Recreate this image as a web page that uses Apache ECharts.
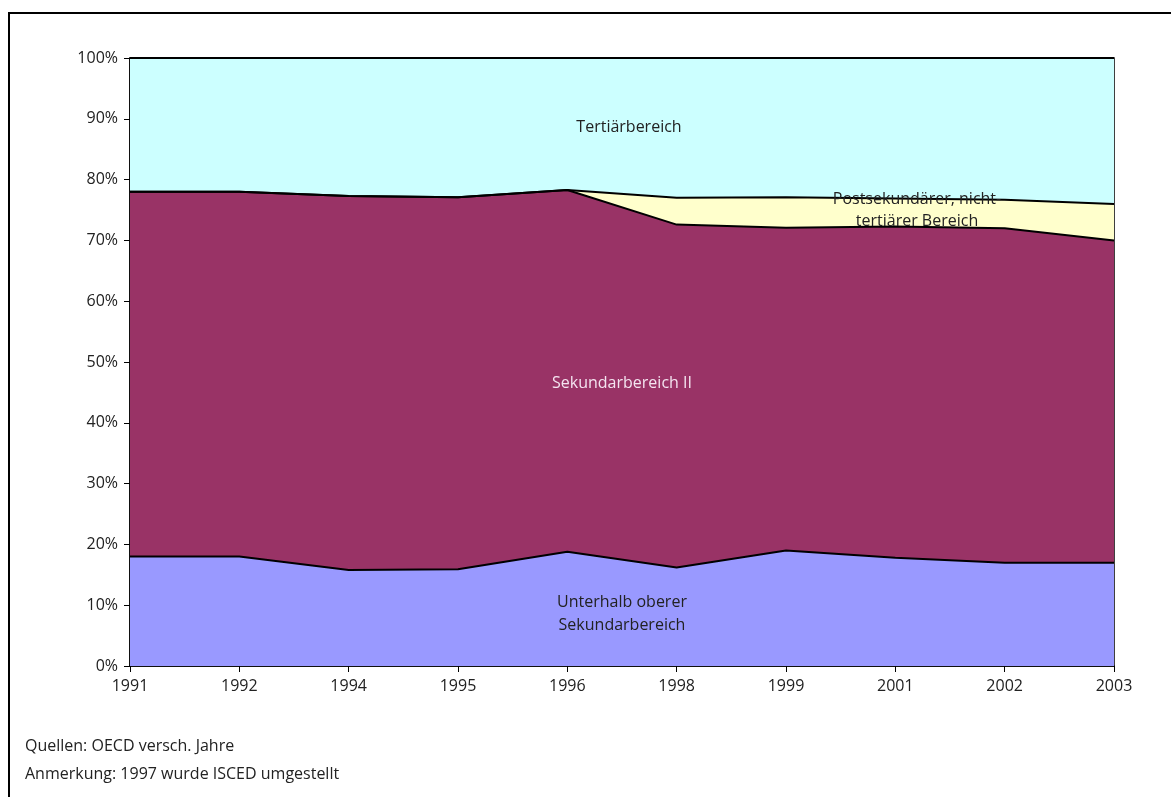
<!DOCTYPE html>
<html>
<head>
<meta charset="utf-8">
<script src="https://cdn.jsdelivr.net/npm/echarts@6/dist/echarts.min.js"></script>
<style>
  html, body { margin: 0; padding: 0; background: #fff; }
  #chart { width: 1171px; height: 797px; }
</style>
</head>
<body>
<div id="chart"></div>
<script>
// Jahre (Kategorien)
const years = ['1991', '1992', '1994', '1995', '1996', '1998', '1999', '2001', '2002', '2003'];

// Anteile in % (gestapelt)
const unterhalb = [18, 18, 15.8, 15.9, 18.8, 16.2, 19, 17.8, 17, 17];
const sekundarII = [60, 60, 61.5, 61.2, 59.5, 56.4, 53.1, 54.5, 55, 53];
const postsekundar = [0, 0, 0, 0, 0, 4.4, 5, 4.6, 4.7, 6];
const tertiaer = [22, 22, 22.7, 22.9, 21.7, 23, 22.9, 23.1, 23.3, 24];

const fontFam = '"Open Sans", "Noto Sans", sans-serif';
const fs = 16;

const chart = echarts.init(document.getElementById('chart'));

function areaSeries(name, data, color) {
  return {
    name: name,
    type: 'line',
    stack: 'total',
    data: data,
    symbol: 'none',
    smooth: false,
    lineStyle: { color: '#000', width: 2 },
    areaStyle: { color: color, opacity: 1 },
    emphasis: { disabled: true },
    z: 2
  };
}

function label(x, y, text, color, lh) {
  return {
    type: 'text',
    style: {
      x: x, y: y, text: text, textAlign: 'center', textVerticalAlign: 'middle',
      fill: color, font: fs + 'px ' + fontFam, lineHeight: lh || 22
    },
    z: 100
  };
}

const option = {
  animation: false,
  backgroundColor: '#FFFFFF',
  grid: {
    left: 130,
    right: 57,
    top: 58,
    bottom: 131,
    show: true,
    borderColor: '#000',
    borderWidth: 1.5,
    backgroundColor: 'transparent'
  },
  xAxis: {
    type: 'category',
    data: years,
    boundaryGap: false,
    axisLine: { lineStyle: { color: '#000', width: 1.5 } },
    axisTick: { show: true, alignWithLabel: true, length: 6, lineStyle: { color: '#000' } },
    axisLabel: { color: '#222', fontSize: fs, fontFamily: fontFam, margin: 12 },
    splitLine: { show: false }
  },
  yAxis: {
    type: 'value',
    min: 0,
    max: 100,
    interval: 10,
    axisLine: { show: true, lineStyle: { color: '#000', width: 1.5 } },
    axisTick: { show: true, length: 6, lineStyle: { color: '#000' } },
    axisLabel: { color: '#222', fontSize: fs, fontFamily: fontFam, margin: 12, formatter: '{value}%' },
    splitLine: { show: false }
  },
  series: [
    areaSeries('Unterhalb oberer Sekundarbereich', unterhalb, '#9999FF'),
    areaSeries('Sekundarbereich II', sekundarII, '#993366'),
    areaSeries('Postsekundärer, nicht-tertiärer Bereich', postsekundar, '#FFFFCC'),
    areaSeries('Tertiärbereich', tertiaer, '#CCFFFF')
  ],
  graphic: [
    {
      type: 'rect',
      shape: { x: 9, y: 13, width: 1180, height: 800 },
      style: { fill: 'none', stroke: '#000', lineWidth: 2 },
      z: 100
    },
    label(629, 127, 'Tertiärbereich', '#222'),
    label(917, 210, 'Postsekundärer, nicht-\ntertiärer Bereich', '#222', 22),
    label(622, 383, 'Sekundarbereich II', '#F4E4F0'),
    label(622, 614, 'Unterhalb oberer\nSekundarbereich', '#222', 23),
    {
      type: 'text',
      style: { x: 25, y: 746, text: 'Quellen: OECD versch. Jahre', textVerticalAlign: 'middle', fill: '#222', font: fs + 'px ' + fontFam },
      z: 100
    },
    {
      type: 'text',
      style: { x: 25, y: 774, text: 'Anmerkung: 1997 wurde ISCED umgestellt', textVerticalAlign: 'middle', fill: '#222', font: fs + 'px ' + fontFam },
      z: 100
    }
  ]
};

chart.setOption(option);
</script>
</body>
</html>
